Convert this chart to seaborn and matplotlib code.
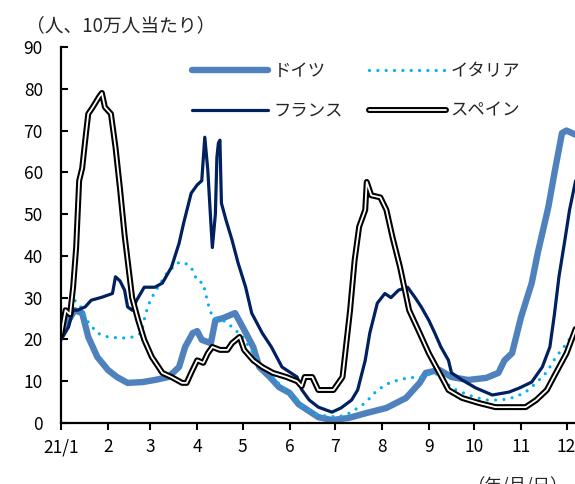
import matplotlib
matplotlib.use("Agg")
import matplotlib.pyplot as plt
import matplotlib.patheffects as pe
import seaborn as sns
import pandas as pd

# ---------------- data (per 100k) ----------------
de_dates = ["2021-01-01","2021-01-05","2021-01-10","2021-01-15","2021-01-19","2021-01-25","2021-02-01","2021-02-07",
            "2021-02-14","2021-02-24","2021-03-04","2021-03-13","2021-03-20","2021-03-24","2021-03-29","2021-04-01",
            "2021-04-04","2021-04-10","2021-04-13","2021-04-18","2021-04-26","2021-05-01","2021-05-08","2021-05-12",
            "2021-05-19","2021-05-25","2021-06-01","2021-06-07","2021-06-20","2021-06-29","2021-07-10","2021-07-22",
            "2021-08-04","2021-08-17","2021-08-26","2021-08-30","2021-09-08","2021-09-16","2021-09-27","2021-10-09",
            "2021-10-17","2021-10-21","2021-10-26","2021-11-01","2021-11-08","2021-11-12","2021-11-19","2021-11-23",
            "2021-11-28","2021-12-01","2021-12-07"]
de_vals = [21, 24, 27, 26.3, 20.6, 15.8, 12.7, 11, 9.6, 9.8, 10.3, 11, 13.4, 18.2, 21.5, 22, 19.9, 19.1, 24.6, 25.1,
           26.3, 23, 18.2, 13.4, 11, 8.6, 7.2, 4.5, 1.4, 0.7, 1.2, 2.4, 3.6, 6, 9.6, 12, 12.7, 11, 10.3, 10.8, 12, 15,
           16.7, 25.4, 33.5, 40.7, 51.7, 59.8, 69.4, 70, 69]

it_dates = ["2021-01-01","2021-01-10","2021-01-14","2021-01-18","2021-01-25","2021-02-01","2021-02-10","2021-02-18",
            "2021-02-23","2021-02-26","2021-03-01","2021-03-06","2021-03-12","2021-03-19","2021-03-23","2021-03-28",
            "2021-04-01","2021-04-05","2021-04-08","2021-04-11","2021-04-18","2021-04-24","2021-05-01","2021-05-08",
            "2021-05-14","2021-05-21","2021-05-27","2021-06-05","2021-06-08","2021-06-20","2021-07-03","2021-07-11",
            "2021-07-21","2021-07-29","2021-08-07","2021-08-18","2021-08-27","2021-09-05","2021-09-11","2021-09-16",
            "2021-09-27","2021-10-08","2021-10-19","2021-10-28","2021-11-04","2021-11-11","2021-11-18","2021-11-24",
            "2021-12-01","2021-12-07"]
it_vals = [24.6, 29.4, 27.8, 24.6, 21.5, 20.6, 20.3, 20.6, 21.5, 26.3, 29.4, 32.5, 35.9, 38.3, 38.5, 37.3, 34, 33.5,
           28.7, 25.4, 24.6, 23, 20.6, 16.7, 13.4, 11, 8.6, 6.2, 4.3, 1.9, 1.4, 2.4, 4.8, 7.9, 9.8, 10.8, 11, 12, 10.3,
           8.4, 6.7, 5.5, 5.5, 6.2, 7.4, 9.6, 12.2, 15.8, 19, 22.5]

fr_dates = ["2021-01-01","2021-01-06","2021-01-09","2021-01-12","2021-01-17","2021-01-21","2021-01-28","2021-02-04",
            "2021-02-06","2021-02-09","2021-02-12","2021-02-14","2021-02-17","2021-02-20","2021-02-25","2021-03-04",
            "2021-03-09","2021-03-15","2021-03-20","2021-03-23","2021-03-28","2021-04-01","2021-04-04","2021-04-06",
            "2021-04-08","2021-04-10","2021-04-11","2021-04-13","2021-04-14","2021-04-15","2021-04-16","2021-04-17",
            "2021-04-20","2021-04-24","2021-04-28","2021-05-03","2021-05-07","2021-05-14","2021-05-20","2021-05-27",
            "2021-06-06","2021-06-09","2021-06-14","2021-06-20","2021-06-29","2021-07-05","2021-07-12","2021-07-16",
            "2021-07-21","2021-07-24","2021-07-29","2021-08-03","2021-08-07","2021-08-12","2021-08-18","2021-08-23",
            "2021-08-27","2021-09-01","2021-09-05","2021-09-09","2021-09-14","2021-09-16","2021-09-23","2021-10-02",
            "2021-10-13","2021-10-24","2021-10-31","2021-11-08","2021-11-15","2021-11-20","2021-11-23","2021-11-26",
            "2021-11-30","2021-12-03","2021-12-07"]
fr_vals = [19.9, 23, 27, 27, 27.8, 29.4, 30.1, 31, 35, 34, 31.8, 27.8, 27, 29.4, 32.5, 32.5, 33.5, 37.3, 43, 47.8,
           55, 57, 58, 68.4, 60.5, 48, 42, 50, 63.6, 67, 67.7, 52.6, 48.6, 43.8, 38.3, 32.5, 26.3, 21.5, 18.2, 13.4,
           11, 8, 5.5, 3.8, 2.6, 3.6, 5.5, 7.9, 15, 21.5, 28.7, 31, 30, 31.8, 32.5, 30, 27.8, 24.6, 21.5, 18.2, 15,
           12, 10.3, 8.4, 6.7, 7.4, 8.4, 9.8, 13.4, 18.2, 26, 35, 44, 51, 58]

es_dates = ["2021-01-01","2021-01-02","2021-01-04","2021-01-07","2021-01-09","2021-01-11","2021-01-13","2021-01-15",
            "2021-01-17","2021-01-19","2021-01-22","2021-01-26","2021-01-28","2021-01-30","2021-02-03","2021-02-06",
            "2021-02-09","2021-02-12","2021-02-17","2021-02-21","2021-02-25","2021-03-02","2021-03-09","2021-03-15",
            "2021-03-22","2021-03-25","2021-03-28","2021-04-01","2021-04-05","2021-04-08","2021-04-11","2021-04-16",
            "2021-04-21","2021-04-24","2021-04-29","2021-05-02","2021-05-08","2021-05-14","2021-05-21","2021-05-30",
            "2021-06-06","2021-06-09","2021-06-11","2021-06-16","2021-06-20","2021-06-30","2021-07-06","2021-07-11",
            "2021-07-14","2021-07-17","2021-07-21","2021-07-22","2021-07-25","2021-07-31","2021-08-04","2021-08-08",
            "2021-08-13","2021-08-19","2021-08-26","2021-09-01","2021-09-08","2021-09-14","2021-09-23","2021-10-04",
            "2021-10-15","2021-10-26","2021-11-04","2021-11-11","2021-11-18","2021-11-24","2021-12-01","2021-12-07"]
es_vals = [21, 23, 27, 26, 32.5, 42, 58, 61, 67.7, 74, 75.6, 78, 79, 75.6, 74, 66, 56, 45, 30, 24.6, 19.9, 15.8, 12,
           11, 9.6, 9.6, 12, 15, 14.4, 16.7, 18.2, 17.5, 17.5, 19.1, 20.6, 17.5, 15, 13.4, 12, 11, 10, 8.8, 11, 11,
           7.9, 7.9, 11, 27, 39, 47, 51, 57.7, 54.5, 54, 51, 44.5, 37.3, 27, 21.5, 16.7, 12, 7.9, 6, 4.8, 3.8, 3.8,
           3.8, 5.5, 7.9, 12, 16.7, 22.5]

series_labels = ["ドイツ", "イタリア", "フランス", "スペイン"]
month_labels = ["21/1", "2", "3", "4", "5", "6", "7", "8", "9", "10", "11", "12"]
y_ticks = [0, 10, 20, 30, 40, 50, 60, 70, 80, 90]

# ---------------- figure ----------------
sns.set_theme(style="white")
plt.rcParams["font.family"] = ["Noto Sans CJK JP", "DejaVu Sans"]

W, H = 575, 484
fig = plt.figure(figsize=(W / 100, H / 100), dpi=100)
ax_left, ax_bottom, ax_top = 61, 423, 47
ax = fig.add_axes([ax_left / W, 1 - ax_bottom / H, 1 - ax_left / W, (ax_bottom - ax_top) / H])

c_de, c_it, c_fr = "#4F81BD", "#00B0F0", "#002060"

sns.lineplot(x=pd.to_datetime(de_dates), y=de_vals, ax=ax, color=c_de, lw=4.6,
             solid_capstyle="round", label=series_labels[0])
sns.lineplot(x=pd.to_datetime(it_dates), y=it_vals, ax=ax, color=c_it, lw=2.3,
             ls=(0, (0.01, 2.6)), dash_capstyle="round", label=series_labels[1])
sns.lineplot(x=pd.to_datetime(fr_dates), y=fr_vals, ax=ax, color=c_fr, lw=2.3,
             label=series_labels[2])
sns.lineplot(x=pd.to_datetime(es_dates), y=es_vals, ax=ax, color="white", lw=1.3,
             path_effects=[pe.Stroke(linewidth=4.3, foreground="black"), pe.Normal()],
             label=series_labels[3])

start = pd.Timestamp("2021-01-01")
ax.set_xlim(start, start + pd.Timedelta(days=339.6))
ax.set_ylim(0, 90)
ax.set_xlabel("")
ax.set_ylabel("")

ax.set_xticks([pd.Timestamp(2021, m, 1) for m in range(1, 13)])
ax.set_xticklabels(month_labels)
ax.set_yticks(y_ticks)
ax.set_yticklabels([str(v) for v in y_ticks])
ax.tick_params(axis="x", direction="out", length=5, width=1.5, colors="black",
               labelsize=12.5, pad=6, bottom=True)
ax.tick_params(axis="y", direction="in", length=5, width=1.5, colors="black",
               labelsize=12.5, pad=13, left=True)

for s in ["top", "right"]:
    ax.spines[s].set_visible(False)
for s in ["left", "bottom"]:
    ax.spines[s].set_color("black")
    ax.spines[s].set_linewidth(1.6)

handles, labels = ax.get_legend_handles_labels()
hmap = dict(zip(labels, handles))
order = ["ドイツ", "フランス", "イタリア", "スペイン"]
ax.legend([hmap[k] for k in order], order, ncol=2, loc="upper left",
          bbox_to_anchor=(192 / W, 1 - 62 / H), bbox_transform=fig.transFigure,
          frameon=False, handlelength=4.4, handletextpad=0.3, columnspacing=1.5,
          labelspacing=1.25, fontsize=12.5, borderpad=0, borderaxespad=0)

fig.text(26 / W, 1 - 26 / H, "（人、10万人当たり）", ha="left", va="center", fontsize=13.5)
fig.text(468 / W, 1 - 477 / H, "（年/月/日）", ha="left", va="top", fontsize=12.5)

fig.savefig("out.png", dpi=100)
